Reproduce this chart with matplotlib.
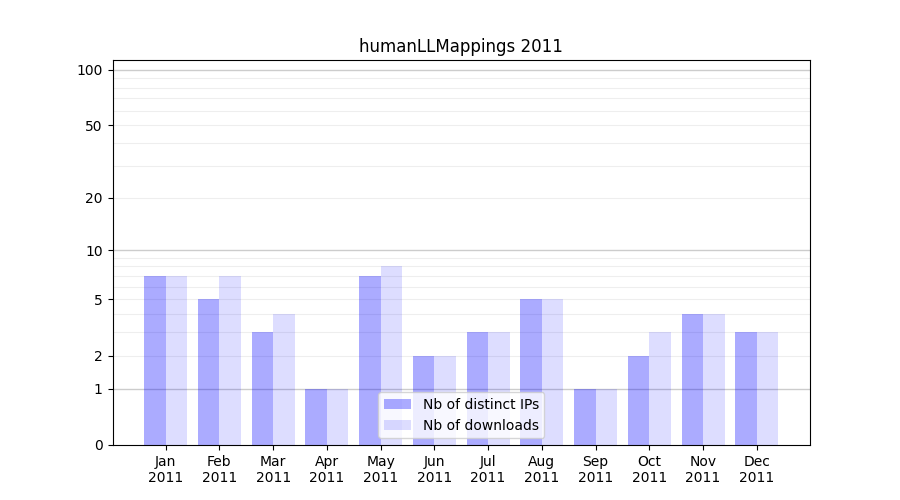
import numpy as np
import matplotlib
matplotlib.use("Agg")
import matplotlib.pyplot as plt
from matplotlib.ticker import FixedLocator, NullFormatter

months = ["Jan", "Feb", "Mar", "Apr", "May", "Jun",
          "Jul", "Aug", "Sep", "Oct", "Nov", "Dec"]
year = "2011"
distinct_ips = [7, 5, 3, 1, 7, 2, 3, 5, 1, 2, 4, 3]
downloads = [7, 7, 4, 1, 8, 2, 3, 5, 1, 3, 4, 3]
yticks = [0, 1, 2, 5, 10, 20, 50, 100]


def fwd(y):
    return np.log10(1 + np.clip(y, 0, None))


def inv(y):
    return 10 ** y - 1


fig, ax = plt.subplots(figsize=(9, 5), dpi=100)
x = np.arange(len(months))
ax.bar(x, distinct_ips, width=-0.4, align="edge", color="blue", alpha=0.33,
       label="Nb of distinct IPs")
ax.bar(x, downloads, width=0.4, align="edge", color="blue", alpha=0.135,
       label="Nb of downloads")

# log(1 + y) axis so that 0 sits at the bottom
ax.set_yscale("function", functions=(fwd, inv))
ax.set_ylim(0, 113)
ax.yaxis.set_major_locator(FixedLocator(yticks))
ax.set_yticklabels([str(t) for t in yticks])
minors = [v * m for m in (1, 10) for v in range(2, 10)]
ax.yaxis.set_minor_locator(FixedLocator(minors))
ax.yaxis.set_minor_formatter(NullFormatter())
ax.tick_params(axis="y", which="minor", length=0)
ax.set_axisbelow(True)
for v in (1, 10, 100):
    ax.axhline(v, color="#cccccc", lw=1, zorder=0)
for v in minors:
    ax.axhline(v, color="#eeeeee", lw=0.8, zorder=0)

ax.set_xticks(x)
ax.set_xticklabels([f"{m}\n{year}" for m in months])
ax.set_title("humanLLMappings 2011")
ax.legend(loc="lower center")

fig.savefig("out.png")
